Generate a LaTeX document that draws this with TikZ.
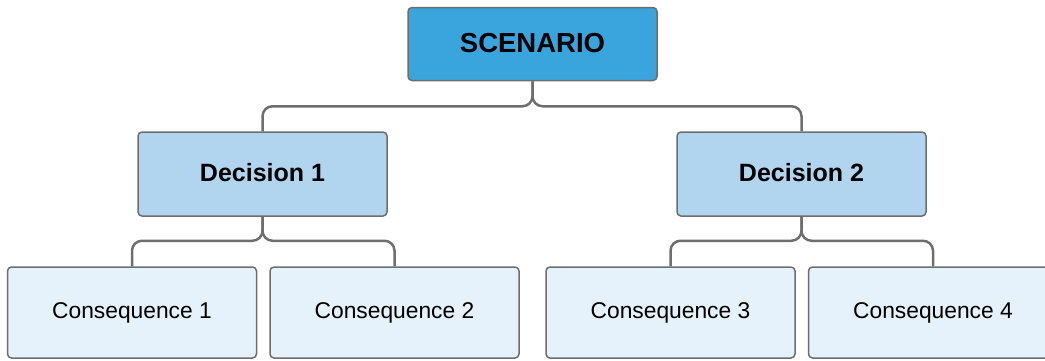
\documentclass[tikz,border=0pt]{standalone}
\usepackage{fontspec}
\setmainfont{Liberation Sans}
\definecolor{topfill}{HTML}{3AA4DC}
\definecolor{midfill}{HTML}{B1D5EF}
\definecolor{lowfill}{HTML}{E6F2FB}
\definecolor{edgegray}{HTML}{6E6E6E}
\newcommand{\lift}[1]{\raisebox{2.5pt}{#1}}
\tikzset{
  box/.style={draw=edgegray, line width=1.5pt, rounded corners=4pt,
    minimum width=249pt, inner sep=0pt, align=center, text=black},
  topbox/.style={box, fill=topfill, minimum height=73pt,
    font=\fontsize{27.5}{32}\selectfont\bfseries},
  decbox/.style={box, fill=midfill, minimum height=84pt,
    font=\fontsize{25}{29}\selectfont\bfseries},
  conbox/.style={box, fill=lowfill, minimum height=91pt,
    font=\fontsize{22.8}{26}\selectfont},
  link/.style={draw=edgegray, line width=2.5pt, rounded corners=10pt}
}
\begin{document}
\begin{tikzpicture}[x=1pt, y=-1pt]
  \useasboundingbox (0,0) rectangle (1045,360);
  \clip (0,0) rectangle (1045,360);

  % hierarchy boxes
  \node[topbox] (scen) at (532.5,44) {\lift{SCENARIO}};
  \node[decbox] (d1) at (262.5,174) {\lift{Decision 1}};
  \node[decbox] (d2) at (801.5,174) {\lift{Decision 2}};
  \node[conbox] (c1) at (132,312.5) {Consequence 1};
  \node[conbox] (c2) at (394.5,312.5) {Consequence 2};
  \node[conbox] (c3) at (670.5,312.5) {Consequence 3};
  \node[conbox] (c4) at (933,312.5) {Consequence 4};

  % forked connectors
  \draw[link] (scen.south) -- ++(0,25) -| (d1.north);
  \draw[link] (scen.south) -- ++(0,25) -| (d2.north);
  \draw[link] (d1.south) -- ++(0,24) -| (c1.north);
  \draw[link] (d1.south) -- ++(0,24) -| (c2.north);
  \draw[link] (d2.south) -- ++(0,24) -| (c3.north);
  \draw[link] (d2.south) -- ++(0,24) -| (c4.north);
\end{tikzpicture}
\end{document}
